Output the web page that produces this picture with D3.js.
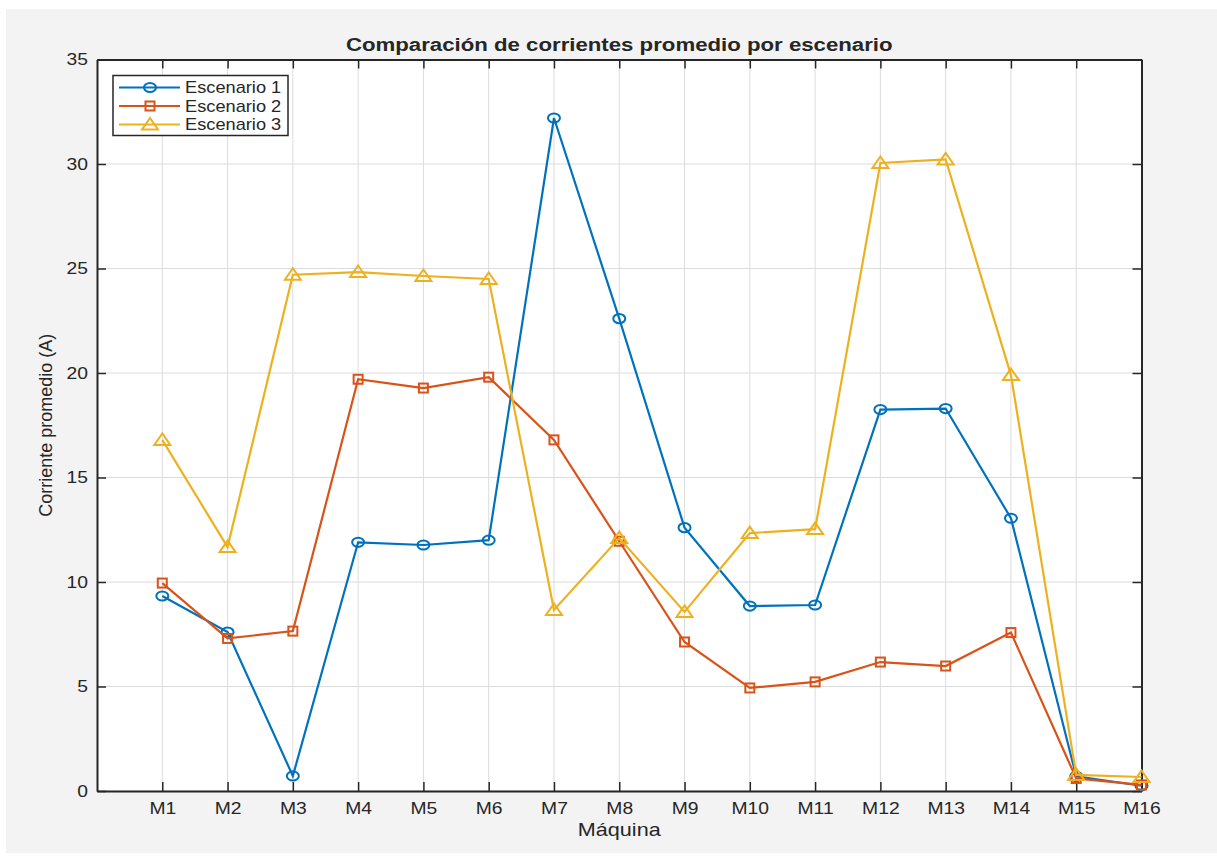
<!DOCTYPE html>
<html>
<head>
<meta charset="utf-8">
<script src="https://cdn.jsdelivr.net/npm/d3@7"></script>
<style>
  body { margin: 0; background: #fff; font-family: "Liberation Sans", Arial, sans-serif; }
  .axis text { font-size: 16.5px; fill: #262626; font-family: "Liberation Sans", Arial, sans-serif; }
</style>
</head>
<body>
<svg id="chart" width="1217" height="856"></svg>
<script>
// chart data
var machines = ['M1','M2','M3','M4','M5','M6','M7','M8','M9','M10','M11','M12','M13','M14','M15','M16'];
var esc1 = [9.33, 7.6, 0.72, 11.9, 11.77, 12.0, 32.2, 22.6, 12.6, 8.85, 8.9, 18.25, 18.3, 13.05, 0.7, 0.25];
var esc2 = [9.95, 7.3, 7.65, 19.7, 19.28, 19.8, 16.8, 11.95, 7.13, 4.93, 5.22, 6.17, 5.98, 7.58, 0.6, 0.29];
var esc3 = [16.8, 11.67, 24.7, 24.83, 24.64, 24.5, 8.66, 12.1, 8.57, 12.34, 12.53, 30.05, 30.22, 19.9, 0.77, 0.67];
var seriesNames = ['Escenario 1', 'Escenario 2', 'Escenario 3'];
var yTicks = [0, 5, 10, 15, 20, 25, 30, 35];

var colors = ['#0072BD', '#D95319', '#EDB120'];
var markers = ['circle', 'square', 'triangle'];
var stretch = 1.17;   // the picture is a bit wider than tall

var margin = {top: 59.5, right: 75.5, bottom: 65, left: 97},
	width = 1217 - margin.left - margin.right,
	height = 791 - margin.top;

var svg = d3.select('#chart');

// figure background
svg.append('rect')
	.attr('x', 6).attr('y', 9)
	.attr('width', 1211).attr('height', 844)
	.attr('fill', '#f3f3f3');

var g = svg.append('g')
	.attr('transform', 'translate(' + margin.left + ',' + margin.top + ')');

var x = d3.scaleLinear().domain([0, 16]).range([0, width]),
	y = d3.scaleLinear().domain([0, 35]).range([height, 0]);

g.append('rect')
	.attr('width', width).attr('height', height)
	.attr('fill', '#fff');

// grid
g.append('g')
	.selectAll('line.gx')
	.data(machines)
	.enter().append('line')
	.attr('x1', function(d, i) { return x(i + 1); })
	.attr('x2', function(d, i) { return x(i + 1); })
	.attr('y1', 0).attr('y2', height)
	.attr('stroke', '#dcdcdc').attr('stroke-width', 1);

g.append('g')
	.selectAll('line.gy')
	.data(yTicks)
	.enter().append('line')
	.attr('x1', 0).attr('x2', width)
	.attr('y1', function(d) { return y(d); })
	.attr('y2', function(d) { return y(d); })
	.attr('stroke', '#dcdcdc').attr('stroke-width', 1);

// axes
var xAxis = d3.axisBottom(x)
	.tickValues(d3.range(1, 17))
	.tickFormat(function(d) { return machines[d - 1]; })
	.tickSizeInner(-9).tickSizeOuter(0).tickPadding(11);
var yAxis = d3.axisLeft(y)
	.tickValues(yTicks)
	.tickSizeInner(-9).tickSizeOuter(0).tickPadding(9);

var gx = g.append('g').attr('class', 'axis')
	.attr('transform', 'translate(0,' + height + ')')
	.call(xAxis);
gx.selectAll('.tick text').attr('transform', 'scale(' + stretch + ',1)');

var gy = g.append('g').attr('class', 'axis')
	.call(yAxis);
gy.selectAll('.tick text')
	.attr('x', 0)
	.attr('transform', 'translate(-9,0) scale(' + stretch + ',1)');

g.append('g').attr('class', 'axis')
	.call(d3.axisTop(x).tickValues(d3.range(1, 17)).tickFormat('').tickSizeInner(-9).tickSizeOuter(0));
g.append('g').attr('class', 'axis')
	.attr('transform', 'translate(' + width + ',0)')
	.call(d3.axisRight(y).tickValues(yTicks).tickFormat('').tickSizeInner(-9).tickSizeOuter(0));

g.selectAll('.axis path, .axis line').attr('stroke', '#262626').attr('stroke-width', 1.5);
g.selectAll('.axis .domain').attr('stroke-width', 2);

// series
function drawMarker(sel, type, color) {
	if (type === 'circle') {
		sel.append('ellipse').attr('rx', 6).attr('ry', 4.6);
	} else if (type === 'square') {
		sel.append('rect').attr('x', -4.5).attr('y', -4.5).attr('width', 9).attr('height', 9);
	} else {
		sel.append('path').attr('d', 'M0,-6.5L8,5L-8,5Z');
	}
	sel.selectAll('*').attr('fill', 'none').attr('stroke', color).attr('stroke-width', 2);
}

var line = d3.line()
	.x(function(d, i) { return x(i + 1); })
	.y(function(d) { return y(d); });

[esc1, esc2, esc3].forEach(function(data, k) {
	g.append('path')
		.datum(data)
		.attr('d', line)
		.attr('fill', 'none')
		.attr('stroke', colors[k])
		.attr('stroke-width', 2.2);

	g.selectAll('.m' + k)
		.data(data)
		.enter().append('g')
		.attr('class', 'm' + k)
		.attr('transform', function(d, i) { return 'translate(' + x(i + 1) + ',' + y(d) + ')'; })
		.each(function() { drawMarker(d3.select(this), markers[k], colors[k]); });
});

// legend
var legend = g.append('g').attr('transform', 'translate(16,16)');
legend.append('rect')
	.attr('width', 175).attr('height', 60)
	.attr('fill', '#fff').attr('stroke', '#262626').attr('stroke-width', 1.5);
seriesNames.forEach(function(name, k) {
	var row = legend.append('g').attr('transform', 'translate(0,' + (12 + k * 18.5) + ')');
	row.append('line')
		.attr('x1', 6).attr('x2', 67).attr('y1', 0).attr('y2', 0)
		.attr('stroke', colors[k]).attr('stroke-width', 2.2);
	var mk = row.append('g').attr('transform', 'translate(37,0)');
	drawMarker(mk, markers[k], colors[k]);
	row.append('text')
		.attr('transform', 'translate(72,5.5) scale(1.14,1)')
		.style('font-size', '16px').attr('fill', '#262626')
		.text(name);
});

// labels
svg.append('text')
	.attr('transform', 'translate(' + (margin.left + width / 2) + ',51) scale(' + stretch + ',1)')
	.attr('text-anchor', 'middle')
	.style('font-size', '19px').style('font-weight', 'bold').attr('fill', '#262626')
	.text('Comparación de corrientes promedio por escenario');

svg.append('text')
	.attr('transform', 'translate(' + (margin.left + width / 2) + ',836) scale(1.2,1)')
	.attr('text-anchor', 'middle')
	.style('font-size', '18px').attr('fill', '#262626')
	.text('Máquina');

svg.append('text')
	.attr('transform', 'translate(52,' + (margin.top + height / 2) + ') rotate(-90)')
	.attr('text-anchor', 'middle')
	.style('font-size', '18px').attr('fill', '#262626')
	.text('Corriente promedio (A)');
</script>
</body>
</html>
